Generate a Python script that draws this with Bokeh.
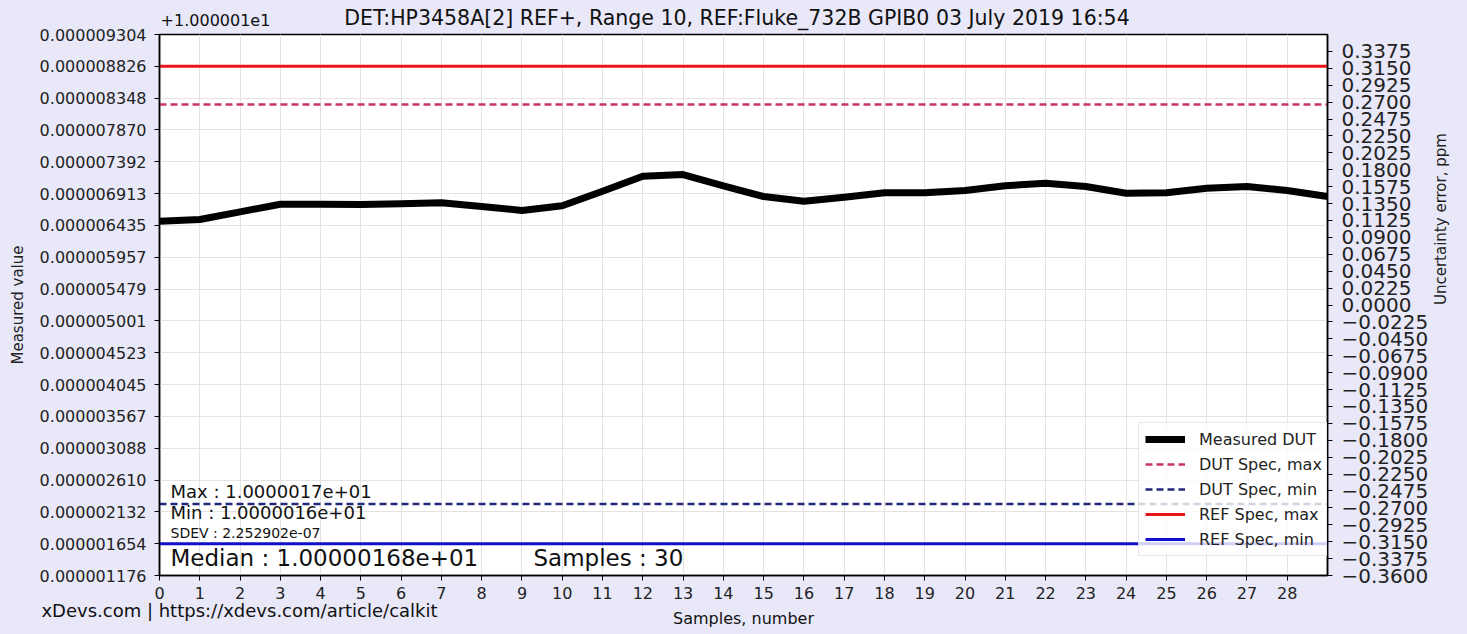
import math
from bokeh.plotting import figure
from bokeh.models import (Range1d, LinearAxis, FixedTicker, PrintfTickFormatter,
                          CustomJSTickFormatter, Label, Legend, LegendItem)
from bokeh.embed import file_html
from bokeh.resources import INLINE

# ---------------- data ----------------
title_text = "DET:HP3458A[2] REF+, Range   10, REF:Fluke_732B GPIB0 03 July 2019 16:54"
offset_text = "+1.000001e1"
footer_text = "xDevs.com | https://xdevs.com/article/calkit"
x_label = "Samples, number"
y_label = "Measured value"
y2_label = "Uncertainty error, ppm"

offset = 10.00001
samples = list(range(30))
measured = [10.000016499, 10.000016524, 10.000016640, 10.000016754, 10.000016754,
            10.000016750, 10.000016760, 10.000016775, 10.000016720, 10.000016660,
            10.000016730, 10.000016950, 10.000017175, 10.000017200, 10.000017031,
            10.000016870, 10.000016799, 10.000016859, 10.000016926, 10.000016926,
            10.000016960, 10.000017031, 10.000017070, 10.000017020, 10.000016920,
            10.000016926, 10.000016995, 10.000017020, 10.000016960, 10.000016870]

dut_spec_max = 10.000018252
dut_spec_min = 10.000012250
ref_spec_max = 10.000018826
ref_spec_min = 10.000011654

left_tick_labels = ["0.000001176", "0.000001654", "0.000002132", "0.000002610",
                    "0.000003088", "0.000003567", "0.000004045", "0.000004523",
                    "0.000005001", "0.000005479", "0.000005957", "0.000006435",
                    "0.000006913", "0.000007392", "0.000007870", "0.000008348",
                    "0.000008826", "0.000009304"]
right_ticks = [-0.36, -0.3375, -0.315, -0.2925, -0.27, -0.2475, -0.225, -0.2025,
               -0.18, -0.1575, -0.135, -0.1125, -0.09, -0.0675, -0.045, -0.0225,
               0.0, 0.0225, 0.045, 0.0675, 0.09, 0.1125, 0.135, 0.1575, 0.18,
               0.2025, 0.225, 0.2475, 0.27, 0.2925, 0.315, 0.3375]
right_range = (-0.36, 0.36)

stat_max = "Max : 1.0000017e+01"
stat_min = "Min : 1.0000016e+01"
stat_sdev = "SDEV : 2.252902e-07"
stat_median = "Median : 1.00000168e+01"
stat_samples = "Samples : 30"

legend_labels = ["Measured DUT", "DUT Spec, max", "DUT Spec, min", "REF Spec, max", "REF Spec, min"]

# ---------------- styling ----------------
FONT = "DejaVu Sans"
BG = "#e8e8f8"
W, H = 1467, 634
BL, BR, BT, BB = 159, 140, 34, 59
FW, FH = W - BL - BR, H - BT - BB
left_ticks = [float(s) for s in left_tick_labels]
px_to_x = (samples[-1] - samples[0]) / float(FW)

p = figure(width=W, height=H, output_backend="svg", toolbar_location=None,
           title=None,
           x_range=Range1d(samples[0], samples[-1]),
           y_range=Range1d(left_ticks[0], left_ticks[-1]),
           min_border_left=BL, min_border_right=BR,
           min_border_top=BT, min_border_bottom=BB)
p.border_fill_color = BG
p.background_fill_color = "white"
p.outline_line_color = "black"
p.outline_line_width = 1.5

try:
    from bokeh.models import InlineStyleSheet
    p.stylesheets = [InlineStyleSheet(css="svg text { white-space: pre; }")]
except Exception:
    pass

# main axes: grab them before any extra axis is added
xax = p.below[0]
yax = p.left[0]

p.extra_y_ranges = {"ppm": Range1d(*right_range)}


def text_axis(positions, texts):
    ax = LinearAxis(ticker=FixedTicker(ticks=positions),
                    formatter=CustomJSTickFormatter(
                        args=dict(pos=positions, txt=texts),
                        code="for (let i = 0; i < pos.length; i++) {"
                             " if (Math.abs(tick - pos[i]) < 1e-6) return txt[i]; }"
                             " return '';"))
    ax.axis_line_color = None
    ax.major_tick_line_color = None
    ax.minor_tick_line_color = None
    ax.major_tick_in = 0
    ax.major_tick_out = 0
    ax.minor_tick_in = 0
    ax.minor_tick_out = 0
    ax.major_label_text_font = FONT
    ax.major_label_text_color = "#111111"
    ax.axis_label_text_font = FONT
    ax.axis_label_text_font_style = "normal"
    ax.axis_label_text_color = "#111111"
    return ax

xax.ticker = FixedTicker(ticks=samples[:-1])
yax.ticker = FixedTicker(ticks=left_ticks)
yax.formatter = PrintfTickFormatter(format="%.9f")
yax.axis_label = y_label

rax = LinearAxis(y_range_name="ppm", axis_label=y2_label)
rax.ticker = FixedTicker(ticks=right_ticks)
rax.formatter = CustomJSTickFormatter(
    code="return (tick < -1e-9 ? '\u2212' : '') + Math.abs(tick).toFixed(4);")
try:
    rax.axis_label_orientation = math.pi / 2
except Exception:
    pass
p.add_layout(rax, "right")

for ax, fs in ((xax, "16px"), (yax, "16px"), (rax, "20px")):
    ax.axis_line_color = "black"
    ax.axis_line_width = 1.5
    ax.major_tick_line_color = "black"
    ax.major_tick_in = 0
    ax.major_tick_out = 5
    ax.minor_tick_line_color = None
    ax.minor_tick_in = 0
    ax.minor_tick_out = 0
    ax.major_label_text_font = FONT
    ax.major_label_text_font_size = fs
    ax.major_label_text_color = "#222222"
    ax.axis_label_text_font = FONT
    ax.axis_label_text_font_size = "15px"
    ax.axis_label_text_font_style = "normal"
    ax.axis_label_text_color = "#222222"

xax.major_label_standoff = 6
yax.major_label_standoff = 8
yax.axis_label_standoff = 10
rax.major_label_standoff = 9
rax.axis_label_standoff = 10

# top: offset text as a tick label, chart title as the axis label
top_ax = text_axis([samples[0] + 56 * px_to_x], [offset_text])
top_ax.major_label_text_font_size = "16px"
top_ax.major_label_standoff = 9
top_ax.axis_label = title_text
top_ax.axis_label_text_font_size = "20.5px"
top_ax.axis_label_standoff = -19
p.add_layout(top_ax, "above")

# bottom: footer as a tick label, x label as the axis label
bot_ax = text_axis([samples[0] + 80 * px_to_x], [footer_text])
bot_ax.major_label_text_font_size = "18px"
bot_ax.major_label_standoff = -2
bot_ax.axis_label = x_label
bot_ax.axis_label_text_font_size = "16px"
bot_ax.axis_label_standoff = -15
p.add_layout(bot_ax, "below")

p.xgrid.ticker = FixedTicker(ticks=samples[:-1])
p.ygrid.ticker = FixedTicker(ticks=left_ticks)
for g in (p.xgrid[0], p.ygrid[0]):
    g.grid_line_color = "#e3e3e3"
    g.grid_line_width = 1

# ---------------- glyphs ----------------
ys = [v - offset for v in measured]
xs_span = [samples[0], samples[-1]]

r_ref_max = p.line(xs_span, [ref_spec_max - offset] * 2, line_color="#e8161b", line_width=3)
r_dut_max = p.line(xs_span, [dut_spec_max - offset] * 2, line_color="#cc3366",
                   line_width=2.5, line_dash="7 4")
r_dut_min = p.line(xs_span, [dut_spec_min - offset] * 2, line_color="#22287a",
                   line_width=2.5, line_dash="7 4")
r_ref_min = p.line(xs_span, [ref_spec_min - offset] * 2, line_color="#1010cc", line_width=3)
r_meas = p.line(samples, ys, line_color="black", line_width=7, line_join="round")

legend = Legend(items=[
    LegendItem(label=legend_labels[0], renderers=[r_meas]),
    LegendItem(label=legend_labels[1], renderers=[r_dut_max]),
    LegendItem(label=legend_labels[2], renderers=[r_dut_min]),
    LegendItem(label=legend_labels[3], renderers=[r_ref_max]),
    LegendItem(label=legend_labels[4], renderers=[r_ref_min]),
], location=(FW - 189, 19))
legend.label_text_font = FONT
legend.label_text_font_size = "16px"
legend.label_text_color = "#222222"
legend.glyph_width = 40
legend.glyph_height = 20
legend.label_height = 20
legend.spacing = 5
legend.padding = 6
legend.margin = 0
legend.label_standoff = 14
legend.background_fill_color = "white"
legend.background_fill_alpha = 0.8
legend.border_line_color = "#cccccc"
legend.border_line_width = 1
p.add_layout(legend)

# ---------------- stats texts (inside the frame) ----------------
def lab(text, x, y, size):
    p.add_layout(Label(x=x, y=y, x_units="screen", y_units="screen", text=text,
                       text_font=FONT, text_font_size=size, text_color="#111111",
                       text_align="left", text_baseline="middle"))

lab(stat_max, 11, 84, "18px")
lab(stat_min, 11, 63, "18px")
lab(stat_sdev, 11, 43, "14px")
lab(stat_median, 11, 18, "23px")
lab(stat_samples, 374, 18, "23px")

html = None
try:
    html = file_html(p, INLINE, template=(
        "{% block postamble %}<style>html,body{background:" + BG + ";}</style>{% endblock %}"))
except Exception:
    html = None
if not html:
    html = file_html(p, INLINE)
open("out.html", "w").write(html)
